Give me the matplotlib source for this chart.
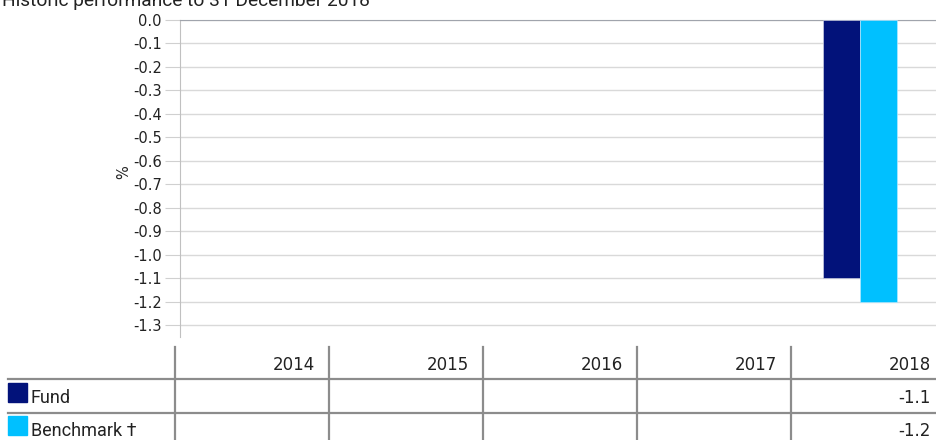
import numpy as np
import matplotlib.pyplot as plt

plt.rcParams['font.family'] = ['DejaVu Sans']

# data
years = ['2014', '2015', '2016', '2017', '2018']
fund = [np.nan, np.nan, np.nan, np.nan, -1.1]
benchmark = [np.nan, np.nan, np.nan, np.nan, -1.2]
series_names = ['Fund', 'Benchmark \u2020']
series_colors = ['#02127A', '#00C0FF']
yticks = np.round(np.arange(0, -1.31, -0.1), 1)

W, H = 936, 440
fig = plt.figure(figsize=(W / 100, H / 100), dpi=100)
txt = '#222222'

# main bar chart
ax = fig.add_axes([180 / W, 1 - 337 / H, (W - 180) / W, (337 - 20) / H])
x = np.arange(len(years))
bw = 0.245
ax.bar(x - bw / 2, fund, bw, color=series_colors[0], edgecolor='#C8CCE0', linewidth=0.5, zorder=3)
ax.bar(x + bw / 2, benchmark, bw, color=series_colors[1], edgecolor='#B0E8FF', linewidth=0.5, zorder=3)
ax.set_xlim(-0.5, len(years) - 0.5)
ax.set_ylim(-1.35, 0)
ax.set_yticks(yticks)
ax.set_yticklabels([f'{v:.1f}' for v in yticks], fontsize=10.5, color=txt)
ax.set_xticks([])
ax.tick_params(axis='y', length=11, color='#D0D0D0', pad=2)
ax.grid(axis='y', color='#D9D9D9', linewidth=1, zorder=0)
for s in ['right', 'bottom']:
    ax.spines[s].set_visible(False)
ax.spines['top'].set_color('#A0A4AC')
ax.spines['left'].set_color('#C0C0C0')
ax.set_ylabel('%', fontsize=10.5, labelpad=1, color=txt)
ax.yaxis.label.set_y(0.52)

# title (partly cut by the top edge in the original)
fig.text(2 / W, 1 - 6.5 / H, 'Historic performance to 31 December 2018',
         fontsize=13.8, color=txt, va='baseline', ha='left', family=['Roboto', 'DejaVu Sans'])

# data table below the chart
tab = fig.add_axes([0, 0, 1, 1])
tab.set_xlim(0, W)
tab.set_ylim(H, 0)
tab.axis('off')
line_kw = dict(color='#8C8C8C', linewidth=1.6)
col0, colw = 175, 154
for i in range(len(years)):
    tab.plot([col0 + i * colw] * 2, [347, H], **line_kw)
for yl in [379, 413]:
    tab.plot([8, W], [yl, yl], **line_kw)
for i, yr in enumerate(years):
    tab.text(col0 + (i + 1) * colw - 14, 365, yr, ha='right', va='center', fontsize=12, color=txt)

rows = [fund, benchmark]
row_y = [398, 431]
for name, vals, c, ry in zip(series_names, rows, series_colors, row_y):
    tab.add_patch(plt.Rectangle((8, ry - 15), 19, 19, color=c))
    tab.text(31, ry, name, ha='left', va='center', fontsize=13, color=txt,
             family=['Roboto', 'DejaVu Sans'])
    for i, v in enumerate(vals):
        if not np.isnan(v):
            tab.text(col0 + (i + 1) * colw - 14, ry, f'{v:.1f}', ha='right', va='center',
                     fontsize=12, color=txt)

fig.savefig('out.png', dpi=100)
